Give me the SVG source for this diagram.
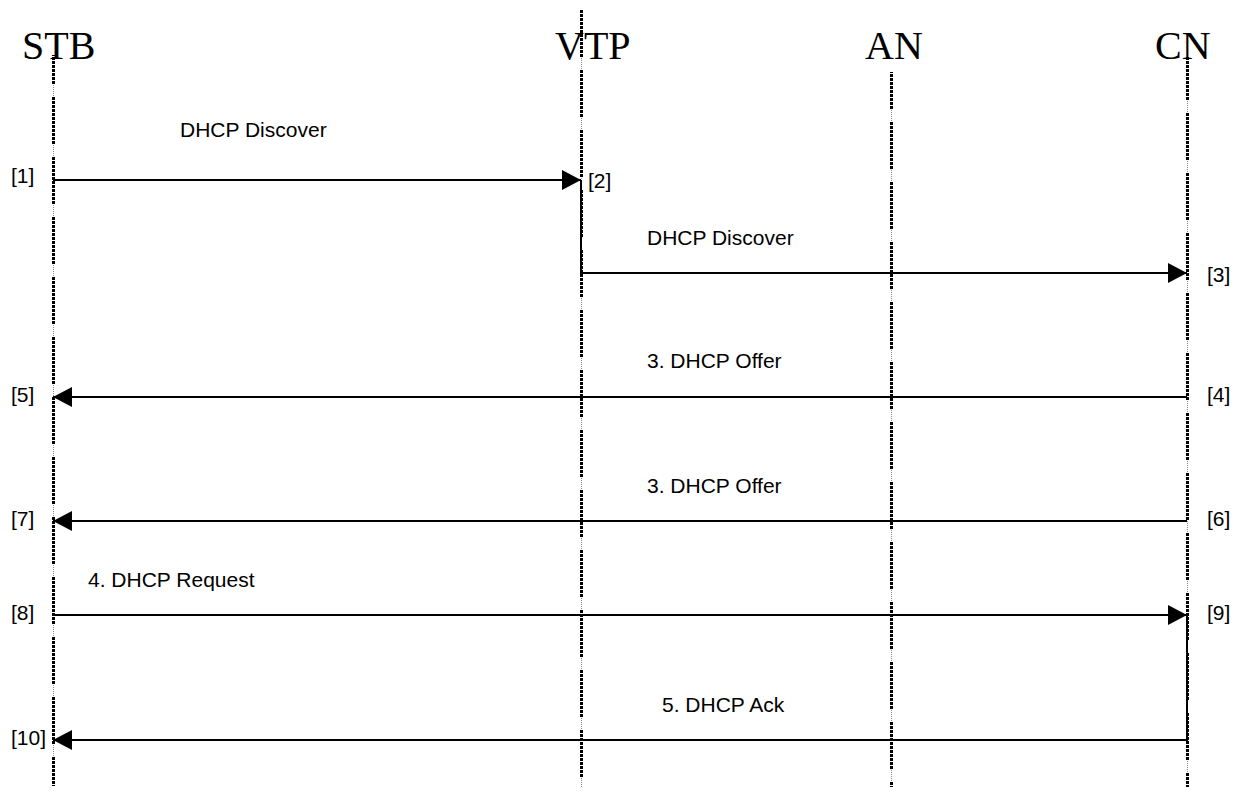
<svg xmlns="http://www.w3.org/2000/svg" width="1237" height="794" viewBox="0 0 1237 794">
  <style>
    .head { font-family: "Liberation Serif", "Times New Roman", serif; font-size: 40px; fill: #000; }
    .msg { font-family: "Liberation Sans", Arial, sans-serif; font-size: 21px; fill: #000; }
    .tag { font-family: "Liberation Sans", Arial, sans-serif; font-size: 21px; fill: #000; }
    .life-faint { stroke: #8a8a8a; stroke-width: 1; stroke-dasharray: 1 1; fill: none; }
    .life-dots { stroke: #000; stroke-width: 3; fill: none;
      stroke-dasharray: 3 1 3 1 3 1 3 1 3 1 3 1 3 1 3 1 3 1 3 1 3 1 3 13; }
    .msg-line { stroke: #000; stroke-width: 2; fill: none; marker-end: url(#head); }
  </style>
  <defs>
    <marker id="head" markerUnits="userSpaceOnUse" markerWidth="19" markerHeight="20" refX="19" refY="10" orient="auto">
      <path d="M0,0 L19,10 L0,20 z" fill="#000"/>
    </marker>
  </defs>
  <rect width="1237" height="794" fill="#fff"/>

  <!-- participants with their lifelines -->
  <g id="stb">
    <line class="life-faint" x1="53.5" y1="55" x2="53.5" y2="786"/>
    <line class="life-dots" x1="53.5" y1="55" x2="53.5" y2="786" stroke-dashoffset="-42"/>
    <text class="head" x="22" y="59">STB</text>
  </g>
  <g id="vtp">
    <line class="life-faint" x1="581.5" y1="10" x2="581.5" y2="787"/>
    <line class="life-dots" x1="581.5" y1="10" x2="581.5" y2="787"/>
    <text class="head" x="555" y="59">VTP</text>
  </g>
  <g id="an">
    <line class="life-faint" x1="891.5" y1="72" x2="891.5" y2="787"/>
    <line class="life-dots" x1="891.5" y1="72" x2="891.5" y2="787" stroke-dashoffset="-50"/>
    <text class="head" x="865" y="59">AN</text>
  </g>
  <g id="cn">
    <line class="life-faint" x1="1187.5" y1="57" x2="1187.5" y2="787"/>
    <line class="life-dots" x1="1187.5" y1="57" x2="1187.5" y2="787" stroke-dashoffset="-56"/>
    <text class="head" x="1155" y="59">CN</text>
  </g>

  <!-- messages -->
  <g id="connectors">
    <line class="msg-line" x1="53" y1="180" x2="581" y2="180"/>
    <path class="msg-line" d="M581,180 V273 H1187"/>
    <line class="msg-line" x1="1187" y1="397" x2="53" y2="397"/>
    <line class="msg-line" x1="1187" y1="521" x2="53" y2="521"/>
    <line class="msg-line" x1="53" y1="615" x2="1187" y2="615"/>
    <path class="msg-line" d="M1187,615 V740 H53"/>
  </g>

  <!-- message labels -->
  <g id="labels">
    <text class="msg" x="180" y="137">DHCP Discover</text>
    <text class="msg" x="647" y="245">DHCP Discover</text>
    <text class="msg" x="647" y="368">3. DHCP Offer</text>
    <text class="msg" x="647" y="493">3. DHCP Offer</text>
    <text class="msg" x="88" y="587">4. DHCP Request</text>
    <text class="msg" x="662" y="712">5. DHCP Ack</text>
  </g>

  <!-- step markers -->
  <g id="steps">
    <text class="tag" x="11" y="183">[1]</text>
    <text class="tag" x="588" y="188">[2]</text>
    <text class="tag" x="1207" y="282">[3]</text>
    <text class="tag" x="1207" y="402">[4]</text>
    <text class="tag" x="11" y="402">[5]</text>
    <text class="tag" x="1207" y="526">[6]</text>
    <text class="tag" x="11" y="526">[7]</text>
    <text class="tag" x="11" y="620">[8]</text>
    <text class="tag" x="1207" y="620">[9]</text>
    <text class="tag" x="11" y="745">[10]</text>
  </g>
</svg>
